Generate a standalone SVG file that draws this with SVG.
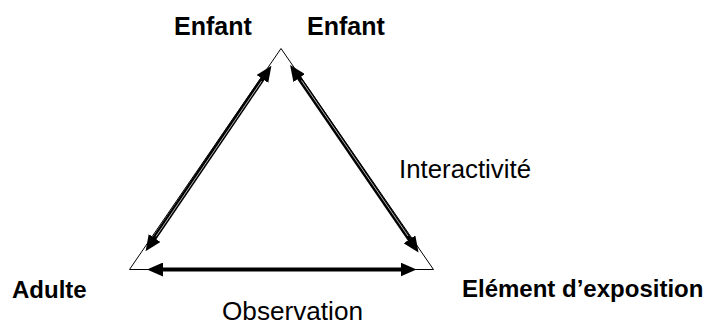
<svg xmlns="http://www.w3.org/2000/svg" width="710" height="324" viewBox="0 0 710 324">
<style>
text{font-family:"Liberation Sans",Arial,sans-serif;fill:#000}
.b{font-weight:bold}
.tri{fill:none;stroke:#000;stroke-width:1}
.ar{stroke:#000;stroke-width:4.5;fill:none;marker-start:url(#ah);marker-end:url(#ah)}
.ar2{stroke:#000;stroke-width:4;fill:none;marker-start:url(#ah);marker-end:url(#ah)}
.st{stroke:#fff;stroke-width:0.7;fill:none}
</style>
<defs>
<marker id="ah" markerUnits="userSpaceOnUse" viewBox="0 0 16 14" refX="1" refY="7" markerWidth="16" markerHeight="14" orient="auto-start-reverse">
<path d="M0,0 L16,7 L0,14 Z" fill="#000"/>
</marker>
</defs>
<rect width="710" height="324" fill="#fff"/>
<g id="triangle">
<polygon class="tri" points="281,48.5 129.5,269.5 433.5,269.5"/>
</g>
<g id="connectors">
<line class="ar" x1="154" y1="238.8" x2="263" y2="78.2"/>
<line class="st" x1="156" y1="236.4" x2="261.5" y2="81.2"/>
<line class="ar" x1="298.6" y1="77.3" x2="410.1" y2="240.1"/>
<line class="st" x1="301.5" y1="80.5" x2="408" y2="236"/>
<line class="ar2" x1="162" y1="269.5" x2="401.5" y2="269.5"/>
<text id="label-interactivite" x="399" y="178" font-size="25.5" textLength="132" lengthAdjust="spacingAndGlyphs">Interactivité</text>
<text id="label-observation" x="222" y="320" font-size="25.5" textLength="141" lengthAdjust="spacingAndGlyphs">Observation</text>
</g>
<g id="enfant-left"><text class="b" x="174" y="35" font-size="25">Enfant</text></g>
<g id="enfant-right"><text class="b" x="307" y="35" font-size="25">Enfant</text></g>
<g id="adulte"><text class="b" x="12" y="298" font-size="24">Adulte</text></g>
<g id="element"><text class="b" x="462" y="297" font-size="24">Elément d’exposition</text></g>
</svg>
